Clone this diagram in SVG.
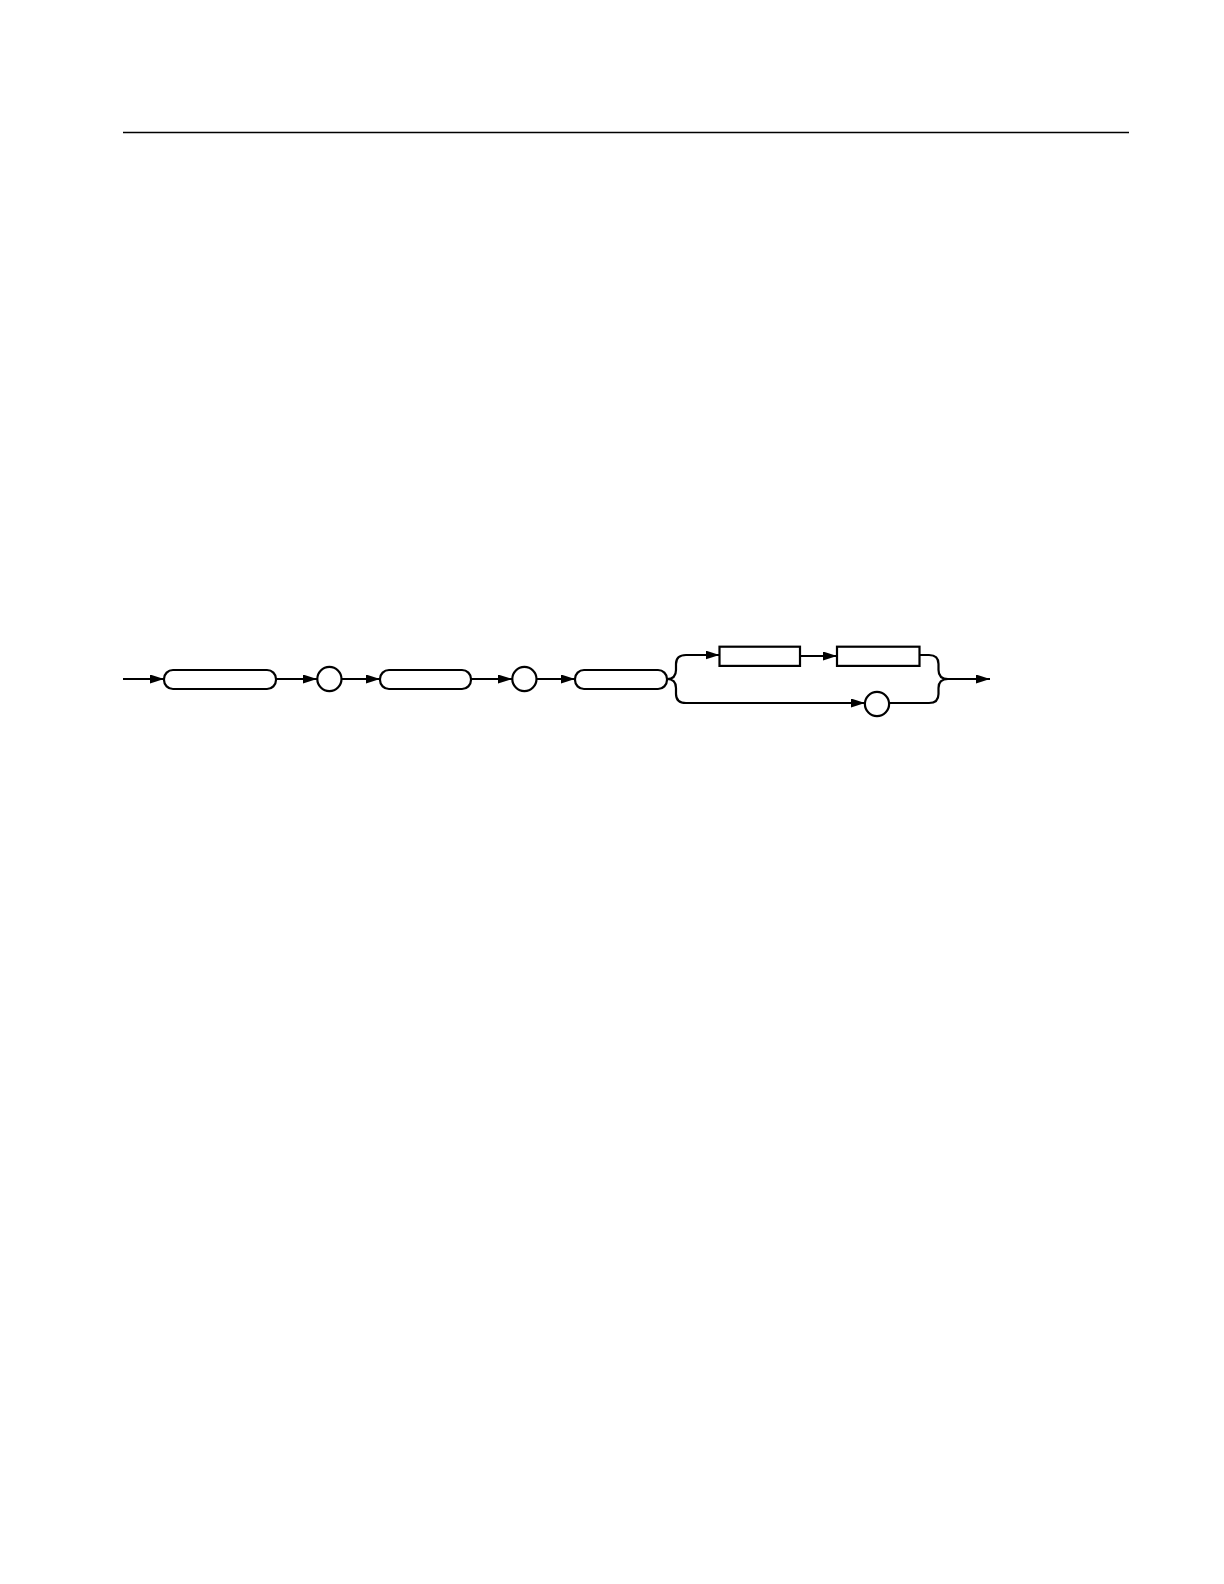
<svg xmlns="http://www.w3.org/2000/svg" width="1224" height="1584" viewBox="0 0 1224 1584">
<defs>
<marker id="arr" viewBox="0 0 14 9" refX="14" refY="4.5" markerWidth="14" markerHeight="9" markerUnits="userSpaceOnUse" orient="auto">
<path d="M0,0 L14,4.5 L0,9 Z" fill="#000"/>
</marker>
</defs>
<style>
.n{fill:#fff;stroke:#000;stroke-width:2.2}
.c{fill:none;stroke:#000;stroke-width:2.2}
.a{marker-end:url(#arr)}
</style>
<rect width="1224" height="1584" fill="#fff"/>
<line x1="123" y1="132.5" x2="1129" y2="132.5" stroke="#000" stroke-width="1.4"/>
<g id="connectors">
<line class="c a" x1="123" y1="679" x2="164" y2="679"/>
<line class="c a" x1="276" y1="679" x2="317" y2="679"/>
<line class="c a" x1="341.5" y1="679" x2="380" y2="679"/>
<line class="c a" x1="471" y1="679" x2="512" y2="679"/>
<line class="c a" x1="536.5" y1="679" x2="575" y2="679"/>
<path class="c" d="M667,679 Q676,679 676,670 L676,664 Q676,655 686,655"/>
<path class="c a" d="M686,655 L719.5,655"/>
<path class="c" d="M667,679 Q676,679 676,688 L676,694 Q676,703 686,703"/>
<path class="c a" d="M686,703 L865,703"/>
<line class="c a" x1="800" y1="656" x2="837" y2="656"/>
<path class="c" d="M919.5,655 L929,655 Q938.5,655 938.5,664 L938.5,670 Q938.5,679 948,679"/>
<path class="c" d="M889,703 L929,703 Q938.5,703 938.5,694 L938.5,688 Q938.5,679 948,679"/>
<line class="c a" x1="948" y1="679" x2="990" y2="679"/>
</g>
<g id="node1"><rect class="n" x="164" y="670" width="112" height="19" rx="9"/></g>
<g id="node2"><circle class="n" cx="329.4" cy="679" r="12.1"/></g>
<g id="node3"><rect class="n" x="380" y="670" width="91" height="19" rx="9"/></g>
<g id="node4"><circle class="n" cx="524.4" cy="679" r="12.1"/></g>
<g id="node5"><rect class="n" x="575" y="670" width="92" height="19" rx="9"/></g>
<g id="node6"><rect class="n" x="719.5" y="646.7" width="80.5" height="19.2"/></g>
<g id="node7"><rect class="n" x="837" y="646.7" width="82.5" height="19.2"/></g>
<g id="node8"><circle class="n" cx="877" cy="704" r="12.1"/></g>
</svg>
